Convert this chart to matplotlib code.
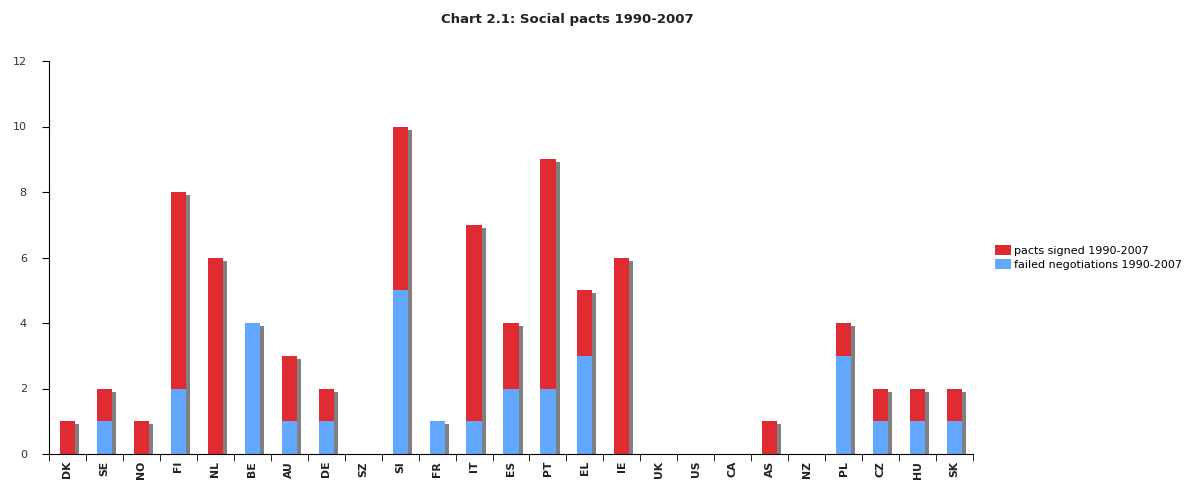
import matplotlib.pyplot as plt
import numpy as np
from matplotlib.transforms import ScaledTranslation

countries = ['DK', 'SE', 'NO', 'FI', 'NL', 'BE', 'AU', 'DE', 'SZ', 'SI', 'FR', 'IT', 'ES',
             'PT', 'EL', 'IE', 'UK', 'US', 'CA', 'AS', 'NZ', 'PL', 'CZ', 'HU', 'SK']
failed = [0, 1, 0, 2, 0, 4, 1, 1, 0, 5, 1, 1, 2, 2, 3, 0, 0, 0, 0, 0, 0, 3, 1, 1, 1]
signed = [1, 1, 1, 6, 6, 0, 2, 1, 0, 5, 0, 6, 2, 7, 2, 6, 0, 0, 0, 1, 0, 1, 1, 1, 1]

red = '#E02B33'
blue = '#63A8FF'

fig = plt.figure(figsize=(11.84, 4.8), dpi=100)
ax = fig.add_axes([49 / 1184, 26 / 480, 924 / 1184, 393 / 480])

x = np.arange(len(countries))
totals = np.array(failed) + np.array(signed)
w = 0.41

# drop shadow behind each stack
shadow = ScaledTranslation(4 / 100, -3 / 100, fig.dpi_scale_trans)
sb = ax.bar(x, totals, w, color='#808080', zorder=1)
for p in sb:
    p.set_transform(ax.transData + shadow)

ax.bar(x, failed, w, color=blue, zorder=2, label='failed negotiations 1990-2007')
ax.bar(x, signed, w, bottom=failed, color=red, zorder=2, label='pacts signed 1990-2007')

ax.set_xlim(-0.5, len(countries) - 0.5)
ax.set_ylim(0, 12)
ax.set_yticks(range(0, 13, 2))
ax.set_xticks(x)
ax.set_xticklabels(countries, rotation=90, fontweight='bold', fontsize=7.8)
ax.set_xticks(np.arange(-0.5, len(countries)), minor=True)
ax.tick_params(axis='x', which='major', length=0, pad=5, labelcolor='#222222')
ax.tick_params(axis='x', which='minor', length=5, direction='out')
ax.tick_params(axis='y', length=5, direction='out', labelsize=8, pad=11, labelcolor='#333333')

for s in ['top', 'right']:
    ax.spines[s].set_visible(False)

fig.text(567 / 1184, 1 - 20 / 480, 'Chart 2.1: Social pacts 1990-2007', fontsize=9.5,
         fontweight='bold', ha='center', va='center', color='#222222')

h, l = ax.get_legend_handles_labels()
fig.legend(h[::-1], l[::-1], loc='center left', bbox_to_anchor=(985 / 1184, 0.464),
           frameon=False, fontsize=8, handlelength=1.4, handleheight=0.95,
           handletextpad=0.35, labelspacing=0.3)

fig.savefig('out.png', dpi=100)
